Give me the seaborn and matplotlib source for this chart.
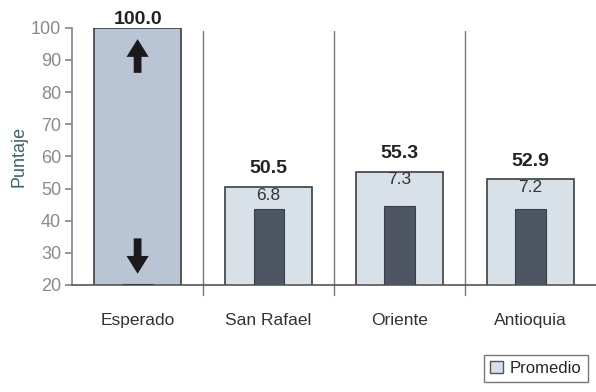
import numpy as np
import pandas as pd
import matplotlib
matplotlib.use('Agg')
import matplotlib.pyplot as plt
import seaborn as sns
from matplotlib.patches import Patch

# ── datos ────────────────────────────────────────────────
categorias = ['Esperado', 'San Rafael', 'Oriente', 'Antioquia']
promedio = [100.0, 50.5, 55.3, 52.9]
desviacion = [None, 6.8, 7.3, 7.2]
barra_oscura = [20.4, 43.5, 44.5, 43.5]
y_ticks = [20, 30, 40, 50, 60, 70, 80, 90, 100]

sns.set_theme(style='white')
plt.rcParams['font.family'] = ['Liberation Sans Narrow', 'Liberation Sans', 'DejaVu Sans']

df = pd.DataFrame({'cat': categorias, 'prom': promedio, 'osc': barra_oscura})

fig = plt.figure(figsize=(5.96, 3.92), dpi=100)
ax = fig.add_axes([0.121, 0.273, 0.879, 0.656])

claro = '#d6e0ea'
colores = ['#b5c5d8', claro, claro, claro]
sns.barplot(data=df, x='cat', y='prom', hue='cat', palette=colores, legend=False,
            width=0.67, edgecolor='#3a3f45', linewidth=1.2, ax=ax, zorder=2)
sns.barplot(data=df, x='cat', y='osc', color='#4a5466', width=0.23,
            edgecolor='#3a3f45', linewidth=0.8, ax=ax, zorder=3)

ax.set_ylim(20, 100)
ax.set_xlim(-0.5, 3.5)
ax.set_yticks(y_ticks)
ax.tick_params(axis='y', labelsize=13, labelcolor='#8a8a8a', length=5, color='#8a8a8a',
               direction='out', left=True, pad=3)
ax.tick_params(axis='x', labelsize=12.5, labelcolor='#333333', length=0, pad=20)
ax.set_xlabel('')
ax.set_ylabel('Puntaje', fontsize=13, color='#3d6464', labelpad=2)

for s in ['top', 'right']:
    ax.spines[s].set_visible(False)
ax.spines['left'].set_color('#8a8a8a')
ax.spines['bottom'].set_color('#555555')
ax.spines['bottom'].set_linewidth(1.2)

# líneas separadoras
for xs in [0.5, 1.5, 2.5]:
    ax.plot([xs, xs], [17, 99], color='#777777', lw=1, clip_on=False, zorder=1)

# etiquetas de valores
for i, (p, d) in enumerate(zip(promedio, desviacion)):
    off = 0.0 if i == 0 else 3.0
    ax.text(i, p + off, f'{p:.1f}', ha='center', va='bottom', fontsize=14,
            fontweight='bold', color='#222222', clip_on=False)
    if d is not None:
        ax.text(i, p - 0.3, f'{d:.1f}', ha='center', va='top', fontsize=12.5,
                color='#333333', zorder=4)

# flechas de la barra esperada
estilo = dict(arrowstyle='simple,head_width=1.0,head_length=0.8,tail_width=0.35',
              color='#1a1a1a', lw=0, mutation_scale=16, shrinkA=0, shrinkB=0)
ax.annotate('', xy=(0, 96.5), xytext=(0, 86), arrowprops=estilo, zorder=5)
ax.annotate('', xy=(0, 23.5), xytext=(0, 34.5), arrowprops=estilo, zorder=5)

# leyenda
leg = fig.legend(handles=[Patch(facecolor=claro, edgecolor='#555555', label='Promedio')],
                 loc='lower right', bbox_to_anchor=(1.0, 0.005), fontsize=12,
                 frameon=True, fancybox=False, edgecolor='#555555',
                 handlelength=0.8, handleheight=0.8, handletextpad=0.4,
                 borderpad=0.35)

fig.savefig('out.png', dpi=100)
